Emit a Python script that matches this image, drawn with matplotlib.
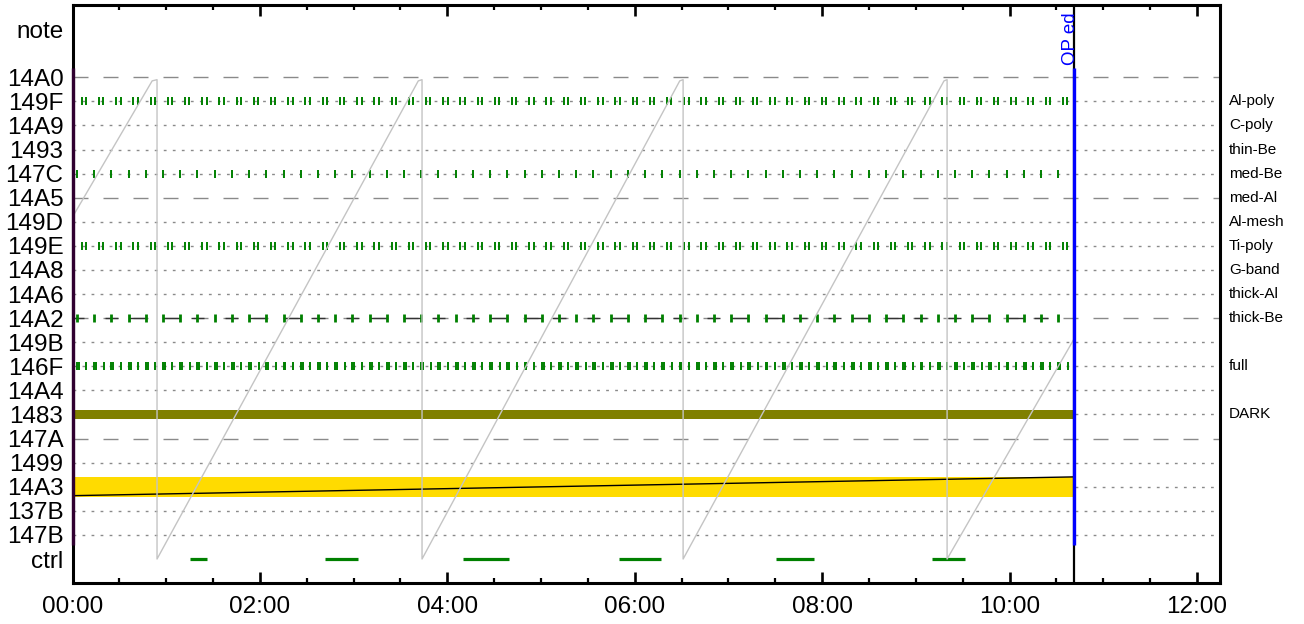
import matplotlib
matplotlib.use('Agg')
import matplotlib.pyplot as plt
import matplotlib.transforms as mtransforms
import numpy as np

plt.rcParams['font.family'] = ['Liberation Sans', 'DejaVu Sans']

# ---------------- data ----------------
rows = ['ctrl', '147B', '137B', '14A3', '1499', '147A', '1483', '14A4', '146F',
        '149B', '14A2', '14A6', '14A8', '149E', '149D', '14A5', '147C', '1493',
        '14A9', '149F', '14A0']
note_label = 'note'
dashed_rows = ['147A', '14A2', '14A5', '14A0']
right_labels = {'149F': 'Al-poly', '14A9': 'C-poly', '1493': 'thin-Be',
                '147C': 'med-Be', '14A5': 'med-Al', '149D': 'Al-mesh',
                '149E': 'Ti-poly', '14A8': 'G-band', '14A6': 'thick-Al',
                '14A2': 'thick-Be', '146F': 'full', '1483': 'DARK'}

xtick_hours = [0, 2, 4, 6, 8, 10, 12]
xtick_labels = ['00:00', '02:00', '04:00', '06:00', '08:00', '10:00', '12:00']

# gray sawtooth (hours, row units)
saw_t = [0.0, 0.85, 0.902, 0.902, 3.69, 3.73, 3.73, 6.48, 6.516, 6.516,
         9.30, 9.333, 9.333, 10.69]
saw_v = [14.2, 19.85, 19.9, 0.0, 19.85, 19.9, 0.0, 19.85, 19.9, 0.0,
         19.85, 19.9, 0.0, 9.15]

# ctrl bars
ctrl_start = [1.254, 2.695, 4.167, 5.832, 7.508, 9.172]
ctrl_end = [1.435, 3.047, 4.658, 6.280, 7.913, 9.525]

op_time = 10.69
op_label = 'OP ed'

# bands
dark_span = (0.0, 10.69)
yellow_span = (0.0, 10.69)
trend_t = [0.0, 10.69]
trend_v = [2.63, 3.41]

# exposure cycles
cycle_first = 0.048
cycle_len = 0.1837
n_cycles = 59
off_149F = [0.05, 0.097]
off_149E = [0.05, 0.097]
off_147C = [0.0]
off_146F = [0.0, 0.02, 0.10]
a2_pattern = ['cross', 'plain', 'cross', 'start', 'end', 'start', 'end']

# ---------------- figure ----------------
fig = plt.figure(figsize=(13.04, 6.24), dpi=100)
ax = fig.add_axes([72.5 / 1304, 1 - 582.5 / 624, (1219.5 - 72.5) / 1304,
                   (582.5 - 5) / 624])
pos = {r: i for i, r in enumerate(rows)}

ax.set_xlim(0, 12.24)
ax.set_ylim(-0.975, 23.0)

# grid lines
for r in rows[1:]:
    if r in dashed_rows:
        ax.axhline(pos[r], color='#8a8a8a', lw=1.0, dashes=(10.8, 10.8),
                   zorder=1)
    else:
        ax.axhline(pos[r], color='#8a8a8a', lw=1.0, dashes=(2.0, 4.5),
                   zorder=1)

# bands
ax.fill_between(yellow_span, pos['14A3'] - 0.415, pos['14A3'] + 0.415,
                color='#FFDB00', lw=0, zorder=2)
ax.plot(trend_t, trend_v, color='black', lw=1.0, zorder=3)
ax.fill_between(dark_span, pos['1483'] - 0.19, pos['1483'] + 0.19,
                color='#808000', lw=0, zorder=2)

# exposures
base = cycle_first + cycle_len * np.arange(n_cycles)
green = '#008000'


def ticks(offsets, row, mew=1.4):
    t = np.concatenate([base + o for o in offsets])
    t = t[t <= op_time + 0.005]
    ax.plot(t, np.full(len(t), pos[row]), ls='none', marker='|', ms=5.4,
            mew=mew, color=green, zorder=5)


ticks(off_149F, '149F')
ticks(off_149E, '149E')
ticks(off_147C, '147C')
ticks(off_146F, '146F')

a2_t = base[base <= op_time + 0.005]
for i, t in enumerate(a2_t):
    kind = a2_pattern[i % len(a2_pattern)]
    if kind == 'cross':
        ax.hlines(pos['14A2'], max(t - 0.07, 0), t + 0.07, color='#333333',
                  lw=1.0, zorder=4)
    elif kind == 'start' and i + 1 < len(a2_t):
        ax.hlines(pos['14A2'], t, a2_t[i + 1], color='#333333', lw=1.0,
                  zorder=4)
ax.plot(a2_t, np.full(len(a2_t), pos['14A2']), ls='none', marker='|', ms=5.4,
        mew=2.0, color=green, zorder=5)

# ctrl bars
ax.hlines([pos['ctrl']] * len(ctrl_start), ctrl_start, ctrl_end, color=green,
          lw=2.3, zorder=5)

# sawtooth
ax.plot(saw_t, saw_v, color='#c4c4c4', lw=1.0, zorder=6)

# OP line
ax.axvline(op_time, color='black', lw=1.6, zorder=7)
ax.vlines(op_time, 0.58, 20.37, color='#0000ff', lw=2.4, zorder=8)
tr = mtransforms.offset_copy(ax.transData, fig=fig, x=-4, y=0, units='dots')
ax.text(op_time, 20.5, op_label, rotation=90, color='#0000ff', fontsize=13.5,
        ha='center', va='bottom', transform=tr, zorder=9)

# left purple marker
ax.vlines(0, 0.58, 20.37, color='#300030', lw=2.4, zorder=10, clip_on=False)

# axes styling
for s in ax.spines.values():
    s.set_linewidth(2.2)
    s.set_zorder(9)
ax.set_xticks(xtick_hours)
ax.set_xticklabels(xtick_labels, fontsize=17.5)
ax.set_xticks(np.arange(0, 12.3, 0.5), minor=True)
ax.tick_params(axis='x', which='major', direction='in', top=True, bottom=True,
               length=8, width=1.9, pad=9.5)
ax.tick_params(axis='x', which='minor', direction='in', top=True, bottom=True,
               length=3.8, width=1.6)
ax.set_yticks(list(range(len(rows))) + [22])
ax.set_yticklabels(rows + [note_label], fontsize=17.5)
ax.tick_params(axis='y', length=0, pad=6.5)

# right labels
rt = mtransforms.offset_copy(ax.get_yaxis_transform(), fig=fig, x=9.5, y=0,
                             units='dots')
for r, lab in right_labels.items():
    ax.text(1.0, pos[r], lab, transform=rt, fontsize=11, ha='left',
            va='center', clip_on=False)

fig.savefig('out.png', dpi=100)
